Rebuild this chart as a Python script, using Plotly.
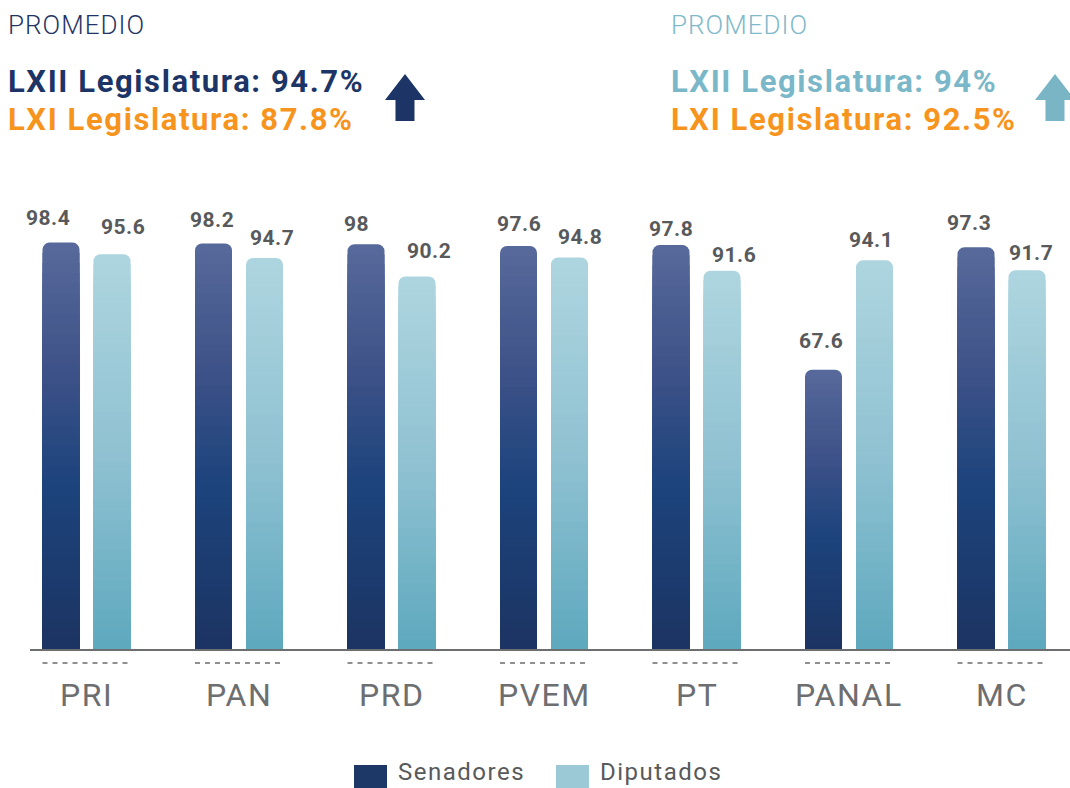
import plotly.graph_objects as go

# ---------------- data ----------------
categories = ["PRI", "PAN", "PRD", "PVEM", "PT", "PANAL", "MC"]
senadores = [98.4, 98.2, 98, 97.6, 97.8, 67.6, 97.3]
diputados = [95.6, 94.7, 90.2, 94.8, 91.6, 94.1, 91.7]
series_names = ["Senadores", "Diputados"]
header_left = ["PROMEDIO", "LXII Legislatura: 94.7%", "LXI Legislatura: 87.8%"]
header_right = ["PROMEDIO", "LXII Legislatura: 94%", "LXI Legislatura: 92.5%"]

# ---------------- label placement nudges (pixels, style only) ----------------
sen_label_dx = [-13.5, -1.5, -10, 0, 0, -2.5, -7]
sen_label_dy = [24.5, 23.5, 20.5, 22, 16.5, 28.5, 24]
dip_label_dx = [11, 7.5, 12, 10, 12, -3.5, 4]
dip_label_dy = [27, 19.5, 25.5, 20, 16, 20, 17.5]

# ---------------- geometry / style ----------------
W, H = 1070, 788
L, R, T, B = 30, 0, 200, 139
PX_PER_UNIT = 4.13          # pixels per percentage point
PX_PER_CAT = 152.5          # pixels per category
FIRST_CAT_PX = 86.5
BAR_W = 37 / PX_PER_CAT
GAP = 14 / PX_PER_CAT
OFF_S = -(GAP / 2 + BAR_W)
OFF_D = GAP / 2
FONT = "Roboto"

plot_w = W - L - R
plot_h = H - T - B


def px(x):
    return (x - L) / plot_w


def py(y):
    return (H - B - y) / plot_h


def hex2rgb(h):
    h = h.lstrip("#")
    return [int(h[i:i + 2], 16) for i in (0, 2, 4)]


def grad(stops, t):
    for (t0, c0), (t1, c1) in zip(stops[:-1], stops[1:]):
        if t0 <= t <= t1:
            a = (t - t0) / (t1 - t0) if t1 > t0 else 0
            r0, r1 = hex2rgb(c0), hex2rgb(c1)
            c = [round(r0[i] + (r1[i] - r0[i]) * a) for i in range(3)]
            return "rgb(%d,%d,%d)" % tuple(c)
    return stops[-1][1]


sen_stops = [(0, "#58699b"), (0.33, "#3c5187"), (0.6, "#1c437c"), (1.0, "#1c3462")]
dip_stops = [(0, "#aed5df"), (0.5, "#90c2d2"), (1.0, "#5ea8be")]

N = 40
fig = go.Figure()
for vals, off, stops in [(senadores, OFF_S, sen_stops), (diputados, OFF_D, dip_stops)]:
    for k in range(N):
        f = 1 - k / N
        fig.add_trace(go.Bar(
            x=list(range(len(categories))),
            y=[v * f for v in vals],
            width=BAR_W, offset=off,
            marker=dict(color=grad(stops, (k + 0.5) / N), line=dict(width=0),
                        cornerradius=7 if k == 0 else 0),
            showlegend=False, hoverinfo="skip",
        ))

annotations = []
# value labels
for vals, off, dxs, dys in [(senadores, OFF_S, sen_label_dx, sen_label_dy),
                            (diputados, OFF_D, dip_label_dx, dip_label_dy)]:
    for i, v in enumerate(vals):
        annotations.append(dict(
            x=i + off + BAR_W / 2, y=v, xref="x", yref="y",
            text='<span style="letter-spacing:0.5px">%s</span>' % f"{v:g}",
            showarrow=False, yanchor="middle", xanchor="center",
            xshift=dxs[i], yshift=dys[i],
            font=dict(family=FONT, size=21, color="#58595b", weight=700),
        ))

# category labels
for i, c in enumerate(categories):
    annotations.append(dict(
        x=i, y=py(695), xref="x", yref="paper", text='<span style="letter-spacing:1.5px">%s</span>' % c,
        showarrow=False, yanchor="middle", xanchor="center",
        font=dict(family=FONT, size=32, color="#6d6e70"),
    ))


# headers
def header(x0, texts, col_main, col_prom):
    annotations.append(dict(
        x=px(x0), y=py(25), xref="paper", yref="paper", text='<span style="letter-spacing:1px">%s</span>' % texts[0],
        showarrow=False, xanchor="left", yanchor="middle",
        font=dict(family=FONT, size=26, color=col_prom, weight=300)))
    annotations.append(dict(
        x=px(x0), y=py(81), xref="paper", yref="paper", text='<span style="letter-spacing:1.6px">%s</span>' % texts[1],
        showarrow=False, xanchor="left", yanchor="middle",
        font=dict(family=FONT, size=31, color=col_main, weight=700)))
    annotations.append(dict(
        x=px(x0), y=py(119), xref="paper", yref="paper", text='<span style="letter-spacing:1.6px">%s</span>' % texts[2],
        showarrow=False, xanchor="left", yanchor="middle",
        font=dict(family=FONT, size=31, color="#f7941d", weight=700)))


header(6, header_left, "#1c3566", "#1f3464")
header(669, header_right, "#7ab7c9", "#7fb9cb")

# legend
legend_items = [(354, 397, series_names[0], "#1d3767"), (556, 599, series_names[1], "#9cc9d6")]
shapes = []
for rx, tx, name, col in legend_items:
    shapes.append(dict(type="rect", xref="paper", yref="paper",
                       x0=px(rx), x1=px(rx + 33), y0=py(765), y1=py(790),
                       fillcolor=col, line=dict(width=0)))
    annotations.append(dict(
        x=px(tx), y=py(772), xref="paper", yref="paper",
        text='<span style="letter-spacing:1.5px">%s</span>' % name,
        showarrow=False, xanchor="left", yanchor="middle", borderpad=0,
        font=dict(family=FONT, size=24, color="#58595b")))


# arrows
def arrow(cx, col):
    pts = [(cx, 74), (cx + 20, 100), (cx + 9.5, 100), (cx + 9.5, 121),
           (cx - 9.5, 121), (cx - 9.5, 100), (cx - 20, 100)]
    path = "M " + " L ".join("%f,%f" % (px(a), py(b)) for a, b in pts) + " Z"
    shapes.append(dict(type="path", xref="paper", yref="paper", path=path,
                       fillcolor=col, line=dict(width=0)))


arrow(405, "#1c3566")
arrow(1055, "#7ab5c6")

# dashed separators under each category
for i in range(len(categories)):
    shapes.append(dict(type="line", xref="x", yref="paper",
                       x0=i + OFF_S, x1=i + OFF_D + BAR_W, y0=py(663), y1=py(663),
                       line=dict(color="#8f9092", width=2, dash="5px,5px")))

fig.update_layout(
    width=W, height=H,
    margin=dict(l=L, r=R, t=T, b=B, pad=0),
    paper_bgcolor="white", plot_bgcolor="white",
    barmode="overlay",
    xaxis=dict(range=[-(FIRST_CAT_PX - L) / PX_PER_CAT, -(FIRST_CAT_PX - L) / PX_PER_CAT + plot_w / PX_PER_CAT],
               showgrid=False, zeroline=False, showticklabels=False, ticks="",
               showline=True, linecolor="#6d6e70", linewidth=2, fixedrange=True),
    yaxis=dict(range=[0, plot_h / PX_PER_UNIT], visible=False, fixedrange=True),
    annotations=annotations, shapes=shapes,
    showlegend=False,
)

fig.write_html("out.html", config={"displayModeBar": False},
               post_script="document.body.style.margin='0px'; document.body.style.overflow='hidden';")
